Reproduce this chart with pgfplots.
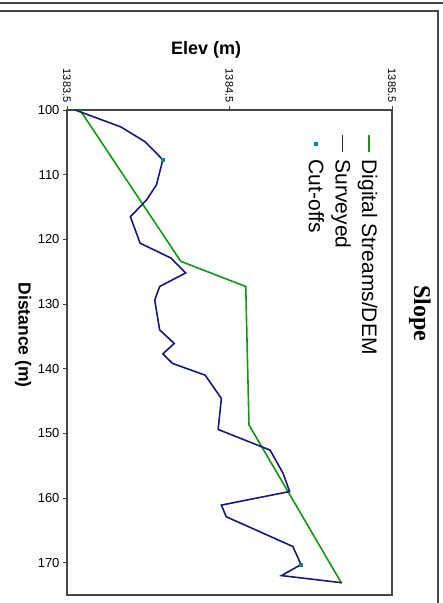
\documentclass[border=0pt]{standalone}
\usepackage{fontspec}
\setmainfont{Liberation Sans}
\newfontfamily\titlefont{Liberation Serif}
\usepackage{graphicx}
\usepackage{pgfplots}
\pgfplotsset{compat=1.18}

\definecolor{demgreen}{RGB}{20,150,20}
\definecolor{survblue}{RGB}{25,25,120}
\definecolor{cutteal}{RGB}{0,140,130}
\definecolor{framegray}{RGB}{70,70,70}

\begin{document}
% the scanned chart lies on its side: draw it upright, then turn it a quarter clockwise
\rotatebox{-90}{%
\begin{tikzpicture}[x=1pt,y=1pt]
\useasboundingbox (-110,-67) rectangle (493,376);
% outer frame of the page
\draw[framegray, line width=2.2pt] (-107,-67) -- (-107,376);
\draw[framegray, line width=1.6pt] (-99,-67) -- (-99,371) -- (493,371);

\begin{axis}[
    width=485pt, height=325pt,
    scale only axis,
    at={(0,0)}, anchor=south west,
    xmin=100, xmax=175,
    ymin=1383.5, ymax=1385.5,
    axis line style={framegray, line width=1.1pt},
    xtick={100,110,120,130,140,150,160,170},
    ytick={1383.5,1384.5,1385.5},
    yticklabels={1383.5,1384.5,1385.5},
    xtick pos=left, ytick pos=left,
    tick align=outside,
    major tick length=4pt,
    tick style={framegray, line width=0.8pt},
    /pgf/number format/assume math mode=true,
    xticklabel style={font=\fontsize{13}{14}\selectfont, rotate=90, anchor=east},
    yticklabel style={font=\fontsize{11}{12}\selectfont},
    xlabel={Distance (m)},
    ylabel={Elev (m)},
    every axis x label/.style={at={(axis description cs:0.464,-0.135)}, anchor=center,
        font=\bfseries\fontsize{17.5}{20}\selectfont},
    every axis y label/.style={at={(axis description cs:-0.124,0.428)}, anchor=center, rotate=90,
        font=\bfseries\fontsize{18}{20}\selectfont},
    title={\titlefont\bfseries Slope},
    every axis title/.style={at={(axis description cs:0.419,1.086)}, anchor=center,
        font=\fontsize{24}{26}\selectfont},
    legend style={at={(axis description cs:0.047,0.962)}, anchor=north west,
        draw=none, fill=none, font=\fontsize{21}{23}\selectfont,
        row sep=8pt, column sep=6pt, inner sep=1pt,
        nodes={inner sep=1pt}},
    legend cell align=left,
]

\addplot[demgreen, line width=1.6pt] coordinates {
    (100,1383.58) (123.4,1384.20) (127.3,1384.60) (148.7,1384.62) (173.2,1385.19)
};
\addlegendentry{Digital Streams/DEM}

\addplot[survblue, line width=1.6pt] coordinates {
    (100,1383.55) (102.6,1383.83) (104.9,1383.98) (107.7,1384.09)
    (111.6,1384.05) (113.9,1383.99) (116.5,1383.89) (120.6,1383.95)
    (122.9,1384.14) (125.2,1384.23) (127.3,1384.07) (129.4,1384.04)
    (134.0,1384.07) (136.1,1384.16) (137.7,1384.09) (139.2,1384.15)
    (141.0,1384.35) (144.6,1384.45) (149.4,1384.43) (152.6,1384.75)
    (156.2,1384.83) (159.0,1384.87) (161.1,1384.45) (162.9,1384.48)
    (167.5,1384.89) (170.3,1384.94) (172.0,1384.82) (173.1,1385.19)
};
\addlegendentry{Surveyed}

\addplot[only marks, mark=square*, mark size=1.5pt, cutteal] coordinates {
    (107.7,1384.09) (170.3,1384.94)
};
\addlegendentry{Cut-offs}

\end{axis}
\end{tikzpicture}%
}
\end{document}
